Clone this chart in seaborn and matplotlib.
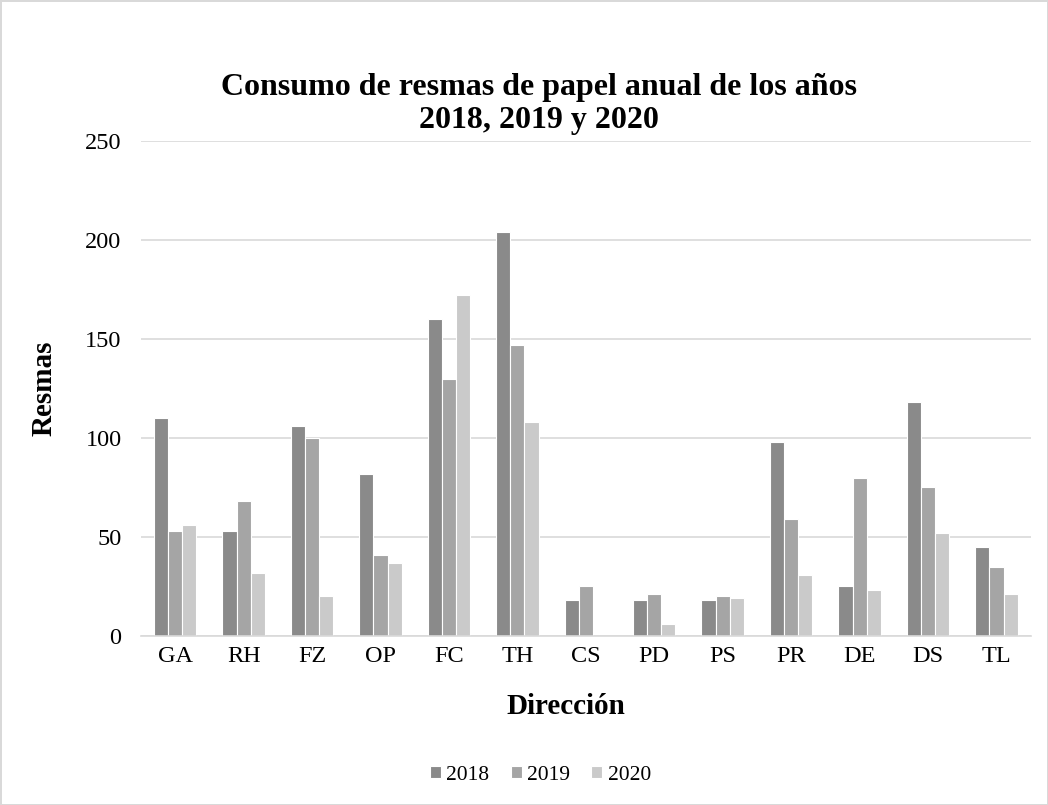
import pandas as pd
import seaborn as sns
import matplotlib.pyplot as plt

# Consumo de resmas por dirección
direcciones = ['GA', 'RH', 'FZ', 'OP', 'FC', 'TH', 'CS', 'PD', 'PS', 'PR', 'DE', 'DS', 'TL']
anios = ['2018', '2019', '2020']
r2018 = [110, 53, 106, 82, 160, 204, 18, 18, 18, 98, 25, 118, 45]
r2019 = [53, 68, 100, 41, 130, 147, 25, 21, 20, 59, 80, 75, 35]
r2020 = [56, 32, 20, 37, 172, 108, 0, 6, 19, 31, 23, 52, 21]
colores = ['#8a8a8a', '#a5a5a5', '#cacaca']

df = pd.DataFrame({'Dirección': direcciones, '2018': r2018, '2019': r2019, '2020': r2020})
df = df.melt(id_vars='Dirección', var_name='Año', value_name='Resmas')

sns.set_style('white')
plt.rcParams['font.family'] = ['Liberation Serif', 'DejaVu Serif']
plt.rcParams['text.color'] = 'black'
plt.rcParams['axes.labelcolor'] = 'black'

fig = plt.figure(figsize=(10.48, 8.05), dpi=100)
ax = fig.add_axes([0.1345, 0.21, 0.849, 0.615])

sns.barplot(data=df, x='Dirección', y='Resmas', hue='Año', hue_order=anios,
            palette=colores, width=0.62, edgecolor='white', linewidth=0.8,
            saturation=1, ax=ax)

ax.set_ylim(0, 250)
ax.set_xlim(-0.5, len(direcciones) - 0.5)
ax.set_yticks(range(0, 251, 50))
ax.yaxis.grid(True, color='#d9d9d9', linewidth=1.2)
ax.set_axisbelow(True)
for s in ['top', 'right', 'left']:
    ax.spines[s].set_visible(False)
ax.spines['bottom'].set_color('#d9d9d9')
ax.spines['bottom'].set_linewidth(1.2)
ax.tick_params(axis='both', labelsize=17.5, length=0, colors='black')
ax.tick_params(axis='y', pad=14)
ax.tick_params(axis='x', pad=7)

ax.set_xlabel('Dirección', fontsize=21, fontweight='bold')
ax.set_ylabel('Resmas', fontsize=21, fontweight='bold')
ax.xaxis.set_label_coords(0.478, -0.115)
ax.yaxis.set_label_coords(-0.094, 0.5)
fig.suptitle('Consumo de resmas de papel anual de los años\n2018, 2019 y 2020',
             fontsize=23, fontweight='bold', x=0.514, y=0.909, linespacing=1.18)

ax.legend(loc='center', bbox_to_anchor=(0.449, -0.281), ncol=3, frameon=False,
          fontsize=15.5, handlelength=0.5, handleheight=0.5, handletextpad=0.25,
          columnspacing=1.0)

fig.patch.set_edgecolor('#d9d9d9')
fig.patch.set_linewidth(2)

fig.savefig('out.png', dpi=100)
